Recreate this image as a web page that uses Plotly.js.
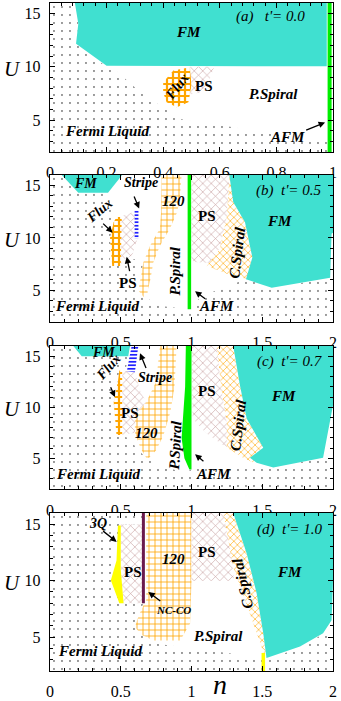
<!DOCTYPE html>
<html>
<head>
<meta charset="utf-8">
<script src="https://cdn.plot.ly/plotly-3.0.1.min.js"></script>
<style>
  html, body { margin: 0; padding: 0; background: white; }
  #chart { width: 341px; height: 701px; }
</style>
</head>
<body>
<div id="chart"></div>
<script>
// phase boundaries, [n, U] pairs

// (a) t' = 0.0
const flA = [[0,16],[0.09,16],[0.1,14],[0.09,12.2],[0.2,10],[0.24,9.5],[0.32,7.6],[0.39,6.35],[0.46,5.1],[0.62,4.45],[0.79,3.7],[0.98,3.05],[0.98,2],[0,2]];
const fmA = [[0.088,16],[0.1,14.06],[0.092,12.17],[0.2,10.1],[0.978,10.05],[0.978,16]];
const fluxA = [[0.40,8.55],[0.436,9.65],[0.495,9.97],[0.50,8.24],[0.489,6.67],[0.448,6.2],[0.412,6.67],[0.40,7.6]];
const psA = [[0.495,10],[0.58,10],[0.56,8.5],[0.53,7.6],[0.495,7.4],[0.50,8.24]];
const afmA = [[0.988,2],[0.988,16]];

// (b) t' = 0.5
const flB = [[0,16],[0.1,16],[0.41,14.3],[0.44,12],[0.42,7.3],[0.6,8.0],[0.66,7.66],[0.636,6.06],[0.66,4.4],[0.8,3.5],[0.98,3.2],[1.07,4.45],[1.25,5.4],[1.385,6.06],[1.567,5.26],[1.98,6.2],[2,6.2],[2,2],[0,2]];
const fmB1 = [[0.083,16],[0.2,14.3],[0.41,14.3],[0.51,16]];
const fmB2 = [[1.267,16],[1.295,13.43],[1.378,11.5],[1.43,8.14],[1.385,6.06],[1.567,5.26],[1.98,6.2],[1.99,10.4],[2,10.5],[2,16]];
const fluxB = [[0.47,12],[0.507,12],[0.5,7.34],[0.44,7.34],[0.424,10],[0.45,11.5]];
const psB1 = [[0.5,12.1],[0.6,12.5],[0.62,10],[0.58,8.3],[0.53,8.0],[0.5,7.5]];
const stripeB = [[0.598,12.6],[0.625,12.6],[0.625,9.9],[0.598,9.9]];
const t120B = [[0.789,16],[0.785,12.5],[0.777,10.9],[0.707,9.26],[0.66,7.66],[0.636,6.06],[0.625,5.0],[0.66,4.4],[0.69,4.4],[0.69,5.0],[0.71,6.06],[0.73,7.66],[0.777,9.26],[0.848,10.9],[0.9,12.5],[0.92,14.1],[0.93,16]];
const afmB = [[0.985,3.2],[0.985,16]];
const psB2 = [[1.0,16],[1.27,16],[1.25,12],[1.2,9],[1.15,7.6],[1.02,7.7],[1.0,8]];
const csB = [[1.267,16],[1.25,12],[1.2,9],[1.107,7.3],[1.25,6.6],[1.39,6.1],[1.43,8.14],[1.378,11.5],[1.295,13.43],[1.29,16]];

// (c) t' = 0.7
const flC = [[0,16],[0.56,16],[0.54,14],[0.49,13.6],[0.45,10.5],[0.47,7.3],[0.56,7.0],[0.6,6.2],[0.68,5.0],[0.8,4.2],[0.95,3.6],[1.0,3.9],[1.2,4.4],[1.46,4.4],[1.578,4.1],[1.93,5.07],[2,5.5],[2,2],[0,2]];
const fmC1 = [[0.165,16],[0.224,15],[0.553,15],[0.565,16]];
const stripeC = [[0.577,16],[0.624,16],[0.6,13.4],[0.542,13.4],[0.56,14.8]];
const fluxC = [[0.49,13.6],[0.51,13.6],[0.51,7.3],[0.47,7.3],[0.45,10.5],[0.48,12.5]];
const psC1 = [[0.51,13.6],[0.6,13.4],[0.64,11.5],[0.68,10.5],[0.6,9.2],[0.6,7.5],[0.51,7.3]];
const t120C = [[0.777,16],[0.75,12.5],[0.68,10.5],[0.6,9.2],[0.6,7.5],[0.64,6],[0.68,5.06],[0.7,5.06],[0.75,5.8],[0.8,7.2],[0.85,9.5],[0.88,12],[0.895,16]];
const afmC = [[0.96,16],[1.0,16],[1.0,3.9],[0.985,3.9],[0.95,5],[0.93,7],[0.94,9],[0.955,12]];
const psC2 = [[1.0,16],[1.18,16],[1.21,12],[1.25,8.5],[1.25,6.03],[1.1,7.5],[1.008,8.9]];
const csC = [[1.178,16],[1.21,12],[1.25,8.5],[1.25,6.03],[1.37,5.0],[1.437,4.6],[1.46,4.58],[1.507,6.03],[1.39,8.9],[1.343,12.1],[1.295,16]];
const fmC2 = [[1.295,16],[1.343,12.1],[1.39,8.9],[1.507,6.03],[1.413,5.07],[1.46,4.58],[1.578,4.1],[1.93,5.07],[2,10.2],[2,16]];

// (d) t' = 1.0
const flD = [[0,16],[0.66,16],[0.66,8],[0.6,6],[0.7,4.5],[1.0,4.0],[1.3,3.5],[1.5,3.2],[1.55,3.1],[1.8,4.2],[1.95,5.5],[2,6.5],[2,2],[0,2]];
const q3D = [[0.48,14.9],[0.5,14.9],[0.5,11],[0.52,8],[0.49,8],[0.43,10.05],[0.47,11.8]];
const psD1 = [[0.5,15],[0.66,15],[0.66,8],[0.52,8],[0.5,11]];
const t120D = [[0.68,16],[1.0,16],[1.0,10],[0.99,6.2],[0.92,4.7],[0.73,4.7],[0.65,5.2],[0.6,5.9],[0.63,7.0],[0.68,8.3]];
const psD2 = [[1.0,16],[1.24,16],[1.28,12.5],[1.3,10],[1.0,10]];
const csD = [[1.225,16],[1.295,11.2],[1.378,8.3],[1.46,5.35],[1.507,3.7],[1.53,3.15],[1.507,5.35],[1.46,8.9],[1.39,12.4],[1.295,16]];
const fmD = [[1.295,16],[1.39,12.4],[1.46,8.9],[1.507,5.35],[1.53,3.15],[1.767,4.17],[1.93,5.35],[1.99,6.5],[2,10],[2,16]];
const ncD = [[0.66,8],[0.66,16]];
const yelD = [[1.495,2],[1.52,2],[1.52,3.6],[1.495,3.6]];

const xTicksA = [0, 0.2, 0.4, 0.6, 0.8, 1];
const xTicksB = [0, 0.5, 1, 1.5, 2];
const uTicks = [5, 10, 15];

const colors = {
  fm: '#40e0d0',
  afm: '#00ee00',
  orange: '#ffa500',
  ps: '#c49a9a',
  stripe: '#2020ff',
  yellow: '#ffff00',
  ncco: '#6b1a4d'
};

const FONT = 'Liberation Serif';

function ax(k) { return k === 1 ? '' : String(k); }

function solid(pts, k, color) {
  return {
    x: pts.map(p => p[0]), y: pts.map(p => p[1]),
    xaxis: 'x' + ax(k), yaxis: 'y' + ax(k),
    mode: 'lines', fill: 'toself', fillcolor: color,
    line: { width: 0, color: color },
    hoverinfo: 'skip', showlegend: false
  };
}

function patterned(pts, k, shape, fg, size, solidity) {
  const t = solid(pts, k, 'white');
  t.line = { width: 0, color: 'rgba(0,0,0,0)' };
  t.fillpattern = { shape: shape, fgcolor: fg, bgcolor: 'white', size: size, solidity: solidity, fillmode: 'replace' };
  return t;
}

function bar(pts, k, color, width) {
  return {
    x: pts.map(p => p[0]), y: pts.map(p => p[1]),
    xaxis: 'x' + ax(k), yaxis: 'y' + ax(k),
    mode: 'lines', line: { width: width, color: color },
    hoverinfo: 'skip', showlegend: false
  };
}

const fermi = (pts, k) => patterned(pts, k, '.', '#000', 8, 0.025);
const psFill = (pts, k) => patterned(pts, k, 'x', colors.ps, 6, 0.18);
const fluxFill = (pts, k) => patterned(pts, k, '+', colors.orange, 6, 0.6);
const brick = (pts, k) => patterned(pts, k, '+', colors.orange, 6, 0.25);
const cross = (pts, k) => patterned(pts, k, 'x', colors.orange, 5, 0.22);
const stripe = (pts, k) => patterned(pts, k, '-', colors.stripe, 3.5, 0.5);

const traces = [
  // (a)
  fermi(flA, 1), solid(fmA, 1, colors.fm), fluxFill(fluxA, 1), psFill(psA, 1), bar(afmA, 1, colors.afm, 4),
  // (b)
  fermi(flB, 2), solid(fmB1, 2, colors.fm), brick(t120B, 2), psFill(psB1, 2), fluxFill(fluxB, 2),
  stripe(stripeB, 2), psFill(psB2, 2), cross(csB, 2), solid(fmB2, 2, colors.fm), bar(afmB, 2, colors.afm, 3.5),
  // (c)
  fermi(flC, 3), solid(fmC1, 3, colors.fm), stripe(stripeC, 3), psFill(psC1, 3), fluxFill(fluxC, 3),
  brick(t120C, 3), psFill(psC2, 3), cross(csC, 3), solid(fmC2, 3, colors.fm), solid(afmC, 3, colors.afm),
  // (d)
  fermi(flD, 4), psFill(psD1, 4), solid(q3D, 4, colors.yellow), brick(t120D, 4), psFill(psD2, 4),
  cross(csD, 4), solid(fmD, 4, colors.fm), bar(ncD, 4, colors.ncco, 3), solid(yelD, 4, colors.yellow)
];

const yDomains = [[0.7832, 0.9957], [0.5407, 0.7504], [0.3024, 0.5064], [0.0428, 0.2682]];

const layout = {
  width: 341, height: 701,
  margin: { l: 50, r: 8, t: 0, b: 0 },
  paper_bgcolor: 'white', plot_bgcolor: 'white',
  font: { family: FONT, color: 'black', size: 15 },
  showlegend: false,
  annotations: []
};

for (let k = 1; k <= 4; k++) {
  const common = {
    ticks: 'inside', ticklen: 5, tickwidth: 1, tickcolor: 'black',
    mirror: 'allticks', showline: true, linewidth: 1.3, linecolor: 'black',
    showgrid: false, zeroline: false,
    tickfont: { family: FONT, size: 16, color: 'black' }
  };
  layout['xaxis' + ax(k)] = Object.assign({}, common, {
    domain: [0, 1], anchor: 'y' + ax(k),
    range: k === 1 ? [0, 1] : [0, 2],
    tickvals: k === 1 ? xTicksA : xTicksB,
    minor: { dtick: k === 1 ? 0.04 : 0.1, ticks: 'inside', ticklen: 3, tickcolor: 'black' },
    ticklabelstandoff: 6
  });
  layout['yaxis' + ax(k)] = Object.assign({}, common, {
    domain: yDomains[k - 1], anchor: 'x' + ax(k),
    range: [2, 16], tickvals: uTicks,
    minor: { dtick: 1, ticks: 'inside', ticklen: 3, tickcolor: 'black' },
    ticklabelstandoff: 5
  });
}

function lab(k, text, x, y, size, angle) {
  layout.annotations.push({
    xref: 'x' + ax(k), yref: 'y' + ax(k), x: x, y: y, text: text,
    xanchor: 'center', yanchor: 'middle',
    showarrow: false, textangle: angle || 0,
    font: { family: FONT, size: size || 15, color: 'black' }
  });
}

function arrow(k, hx, hy, tx, ty) {
  layout.annotations.push({
    xref: 'x' + ax(k), yref: 'y' + ax(k), axref: 'x' + ax(k), ayref: 'y' + ax(k),
    x: hx, y: hy, ax: tx, ay: ty, text: '',
    showarrow: true, arrowhead: 2, arrowsize: 1, arrowwidth: 1.3, arrowcolor: 'black'
  });
}

const bi = s => '<b><i>' + s + '</i></b>';

// (a)
lab(1, bi('FM'), 0.488, 13.3);
lab(1, "<i>(a)   t'= 0.0</i>", 0.78, 14.7, 15);
lab(1, bi('P.Spiral'), 0.79, 7.45);
lab(1, bi('Fermi Liquid'), 0.2, 3.97);
lab(1, bi('AFM'), 0.84, 3.4);
arrow(1, 0.972, 4.78, 0.9, 4.0);
lab(1, bi('Flux'), 0.448, 8.2, 14, -52);
lab(1, '<b>PS</b>', 0.545, 8.2, 15);

// (b)
lab(2, bi('FM'), 0.25, 15.2, 14);
lab(2, bi('Stripe'), 0.64, 15.3, 14);
arrow(2, 0.63, 12.8, 0.59, 14.1);
lab(2, bi('Flux'), 0.35, 12.6, 14, -40);
arrow(2, 0.443, 10.5, 0.365, 11.5);
lab(2, '<b>PS</b>', 0.553, 5.75, 15);
arrow(2, 0.542, 8.2, 0.565, 6.7);
lab(2, bi('120'), 0.87, 13.5, 15);
lab(2, bi('P.Spiral'), 0.883, 6.9, 15, -90);
lab(2, '<b>PS</b>', 1.107, 12.1, 15);
lab(2, bi('C.Spiral'), 1.32, 8.6, 15, -83);
lab(2, bi('FM'), 1.625, 11.6, 15);
lab(2, "<i>(b)  t'= 0.5</i>", 1.684, 14.5, 15);
lab(2, bi('Fermi Liquid'), 0.33, 3.5);
lab(2, bi('AFM'), 1.18, 3.5);
arrow(2, 1.025, 4.93, 1.107, 4.1);

// (c)
lab(3, bi('FM'), 0.377, 15.4, 14);
lab(3, bi('Stripe'), 0.742, 12.9, 14);
arrow(3, 0.636, 15.3, 0.683, 13.7);
lab(3, bi('Flux'), 0.41, 13.9, 14, -48);
arrow(3, 0.459, 11.0, 0.424, 12.1);
lab(3, '<b>PS</b>', 0.565, 9.4, 15);
lab(3, bi('120'), 0.683, 7.47, 15);
lab(3, bi('P.Spiral'), 0.883, 6.35, 15, -87);
lab(3, '<b>PS</b>', 1.107, 11.6, 15);
lab(3, bi('C.Spiral'), 1.33, 8.27, 15, -83);
lab(3, bi('FM'), 1.65, 11.15, 15);
lab(3, "<i>(c)  t'= 0.7</i>", 1.696, 14.5, 15);
lab(3, bi('Fermi Liquid'), 0.34, 3.46);
lab(3, bi('AFM'), 1.154, 3.46);
arrow(3, 1.025, 5.4, 1.095, 4.6);

// (d)
lab(4, bi('3Q'), 0.34, 15.06, 14);
arrow(4, 0.471, 13.44, 0.365, 14.5);
lab(4, '<b>PS</b>', 0.589, 10.8, 15);
lab(4, bi('120'), 0.871, 11.96, 15);
lab(4, '<b>PS</b>', 1.107, 12.55, 15);
lab(4, bi('NC-CO'), 0.871, 7.4, 11);
arrow(4, 0.695, 9.0, 0.79, 8.1);
lab(4, bi('P.Spiral'), 1.19, 5.1, 15);
lab(4, bi('C.Spiral'), 1.36, 9.8, 15, -103);
lab(4, bi('FM'), 1.696, 10.8, 15);
lab(4, "<i>(d)  t'= 1.0</i>", 1.696, 14.5, 15);
lab(4, bi('Fermi Liquid'), 0.353, 3.74);

// axis letters
for (let k = 1; k <= 4; k++) {
  layout.annotations.push({
    xref: 'paper', yref: 'y' + ax(k), x: -0.134, y: 9.8, text: '<i>U</i>',
    xanchor: 'center', yanchor: 'middle',
    showarrow: false, font: { family: FONT, size: 21, color: 'black' }
  });
}
layout.annotations.push({
  xref: 'paper', yref: 'paper', x: 0.6, y: 0.024, text: '<i>n</i>',
  xanchor: 'center', yanchor: 'middle',
  showarrow: false, font: { family: FONT, size: 28, color: 'black' }
});

Plotly.newPlot('chart', traces, layout, { staticPlot: true, displayModeBar: false });
</script>
</body>
</html>
